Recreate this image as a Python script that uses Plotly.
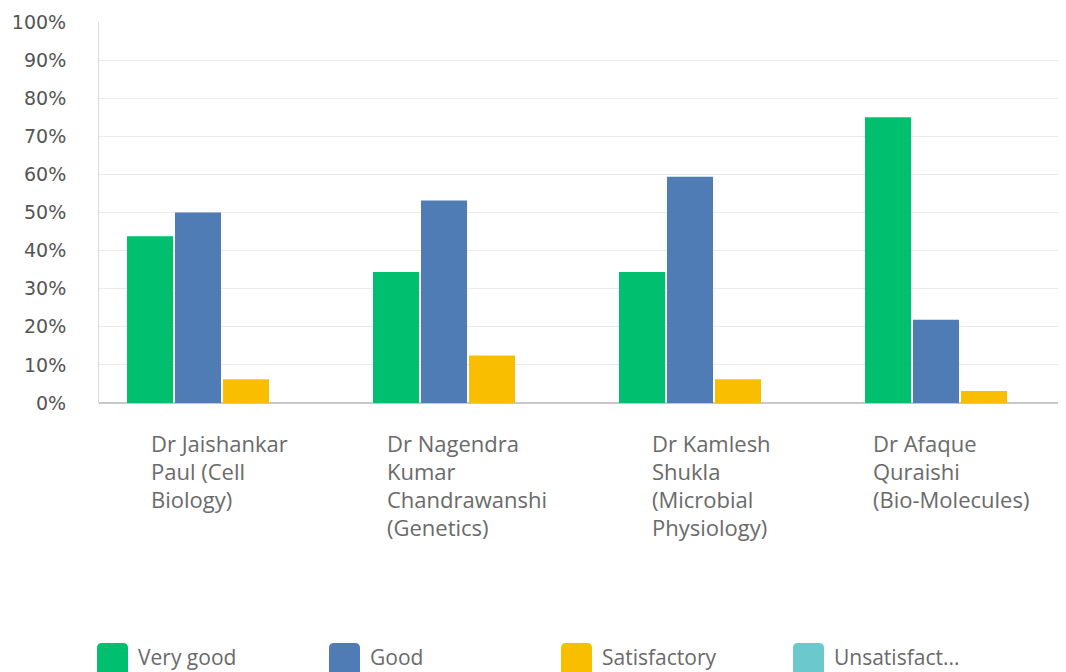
import plotly.graph_objects as go

categories = [
    ["Dr Jaishankar", "Paul (Cell", "Biology)"],
    ["Dr Nagendra", "Kumar", "Chandrawanshi", "(Genetics)"],
    ["Dr Kamlesh", "Shukla", "(Microbial", "Physiology)"],
    ["Dr Afaque", "Quraishi", "(Bio-Molecules)"],
]
very_good = [43.75, 34.38, 34.38, 75.0]
good = [50.0, 53.13, 59.38, 21.88]
satisfactory = [6.25, 12.5, 6.25, 3.13]
unsatisfactory = [0, 0, 0, 0]

series_names = ["Very good", "Good", "Satisfactory", "Unsatisfact..."]
series_colors = ["#00BF6F", "#507CB6", "#F9BE00", "#6BC8CD"]
series_values = [very_good, good, satisfactory, unsatisfactory]

# label block left offsets (px) relative to category centre
label_offsets = [-72, -82, -63, -88]

x_idx = list(range(len(categories)))

W, H = 1058, 664          # page has an 8px body margin
ML, MT, MB, MR = 91, 14, 269, 0
plot_w = W - ML - MR
plot_h = H - MT - MB
OFF = 8

def fx(p):  # page px -> paper x
    return (p - OFF - ML) / plot_w

def fy(p):  # page px -> paper y
    return (H - MB - (p - OFF)) / plot_h

fig = go.Figure()
for name, color, vals in zip(series_names, series_colors, series_values):
    fig.add_trace(go.Bar(
        x=x_idx, y=vals, name=name,
        marker=dict(color=color, line=dict(width=0)),
        showlegend=False,
    ))

text_color = "#6a6a6a"
font_family = "'Open Sans', sans-serif"

for i, lines in enumerate(categories):
    for j, line in enumerate(lines):
        fig.add_annotation(
            x=i, xref="x", y=fy(443 + 28 * j), yref="paper",
            xanchor="left", yanchor="middle", xshift=label_offsets[i] - 1,
            text=line, showarrow=False, align="left",
            font=dict(size=22, color=text_color, family=font_family),
        )

# custom legend (rounded squares)
for k, (name, color) in enumerate(zip(series_names, series_colors)):
    px0 = 97 + 232 * k
    px1 = px0 + 31
    py0 = 643
    py1 = 676
    r = 5
    path = (f"M {fx(px0+r)},{fy(py0)} L {fx(px1-r)},{fy(py0)} Q {fx(px1)},{fy(py0)} {fx(px1)},{fy(py0+r)} "
            f"L {fx(px1)},{fy(py1)} L {fx(px0)},{fy(py1)} "
            f"L {fx(px0)},{fy(py0+r)} Q {fx(px0)},{fy(py0)} {fx(px0+r)},{fy(py0)} Z")
    fig.add_shape(type="path", xref="paper", yref="paper", path=path,
                  fillcolor=color, line=dict(width=0))
    fig.add_annotation(
        x=fx(px1 + 8), xref="paper", y=fy(657), yref="paper",
        xanchor="left", yanchor="middle", text=name, showarrow=False,
        font=dict(size=21, color=text_color, family=font_family),
    )

fig.update_layout(
    width=W, height=H,
    margin=dict(l=ML, r=MR, t=MT, b=MB, pad=0),
    paper_bgcolor="white", plot_bgcolor="white",
    barmode="group", bargap=0.22, bargroupgap=0.04,
    font=dict(family=font_family, color=text_color),
)
fig.update_xaxes(
    range=[-0.5, 3.431], showticklabels=False, showgrid=False,
    showline=False, zeroline=False,
)
fig.update_yaxes(
    range=[0, 100], dtick=10, ticksuffix="%",
    showgrid=True, gridcolor="#ebebeb", gridwidth=1,
    showline=True, linecolor="#d9d9d9", linewidth=1,
    zeroline=True, zerolinecolor="#c8c8c8", zerolinewidth=2,
    tickfont=dict(size=19, color="#555555", family="'DejaVu Sans', sans-serif"),
    ticklabelstandoff=28, ticks="",
)

fig.write_html("out.html")
